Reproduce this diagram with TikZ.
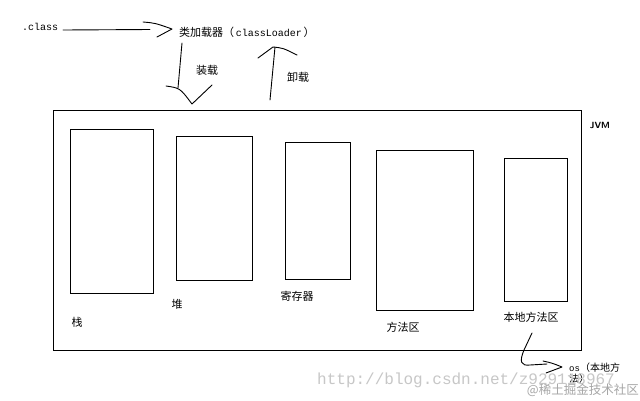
\documentclass[tikz,border=0pt]{standalone}
\usepackage{fontspec}
\setmonofont{Liberation Mono}
\newfontfamily\cjk{Noto Sans CJK SC}
\begin{document}
\begin{tikzpicture}[x=1pt,y=-1pt,
  box/.style={draw,line width=0.9pt,anchor=north west,inner sep=0pt},
  lbl/.style={inner sep=0pt,font=\cjk\fontsize{11}{12}\selectfont},
  hand/.style={line width=0.9pt,line join=round,line cap=round},
  wmark/.style={inner sep=0pt,text=black!22}]
\useasboundingbox (0,0) rectangle (640,400);
\fill[white] (0,0) rectangle (640,400);
% outer JVM frame
\node[box,minimum width=528pt,minimum height=240pt] (jvm) at (53,110) {};
\node[inner sep=0pt,font=\sffamily\bfseries\fontsize{9}{10}\selectfont] (jvmlbl) at (600,125) {JVM};
% memory areas
\node[box,minimum width=83pt,minimum height=164pt] (stack) at (70,129) {};
\node[box,minimum width=76pt,minimum height=144pt] (heap) at (176,136) {};
\node[box,minimum width=65pt,minimum height=137pt] (reg) at (285,142) {};
\node[box,minimum width=97pt,minimum height=160pt] (meth) at (376,150) {};
\node[box,minimum width=63pt,minimum height=143pt] (native) at (504,158) {};
\node[lbl] (stacklbl) at (77,322) {栈};
\node[lbl] (heaplbl) at (177,304) {堆};
\node[lbl] (reglbl) at (297,296) {寄存器};
\node[lbl] (methlbl) at (403,327) {方法区};
\node[lbl] (nativelbl) at (531,317) {本地方法区};
% top
\node[inner sep=0pt,font=\ttfamily\fontsize{10}{11}\selectfont,anchor=west] (cls) at (22,27) {.class};
\node[inner sep=0pt,anchor=west,font=\fontsize{10}{11}\selectfont] (cl) at (179,32)
  {{\cjk\fontsize{11}{12}\selectfont 类加载器（}\,\texttt{classLoader}\,{\cjk\fontsize{11}{12}\selectfont ）}};
\node[lbl] (load) at (207,70) {装载};
\node[lbl] (unload) at (298,77) {卸载};
% .class -> classLoader
\coordinate (c1) at (63,30);
\coordinate (c2) at (150,29.5);
\draw[hand] (c1) -- (c2);
\draw[hand] (143,22) .. controls (155,23) .. (172,29) -- (157,37);
% load arrow
\coordinate (l1) at (182,43);
\coordinate (l2) at (178,88);
\draw[hand] (l1) -- (l2);
\draw[hand] (166,86) .. controls (180,88) .. (192,104) -- (212,85);
% unload arrow
\coordinate (u1) at (270,100);
\coordinate (u2) at (275,47);
\draw[hand] (u1) -- (u2);
\draw[hand] (258,58) -- (273,47) .. controls (283,48) .. (297,55);
% native -> os
\node[inner sep=0pt,anchor=north west,align=left,font=\fontsize{9}{11}\selectfont] (os) at (569,363)
  {\texttt{os}{\cjk\fontsize{10}{11}\selectfont （本地方}\\{\cjk\fontsize{10}{11}\selectfont 法）}};
\coordinate (n1) at (532,333);
\draw[hand] (n1) -- (524,350) .. controls (519,362) and (521,366) .. (530,365) -- (547,364);
\draw[hand] (543,361) .. controls (552,363) .. (562,367) -- (546,373);
% watermark
\node[wmark,font=\ttfamily\fontsize{16}{16}\selectfont,anchor=west] (wm1) at (317,380) {http://blog.csdn.net/z929118967};
\node[wmark,text=black!35,font=\cjk\fontsize{12.5}{13}\selectfont,anchor=east] (wm2) at (639,390) {@稀土掘金技术社区};
\end{tikzpicture}
\end{document}
